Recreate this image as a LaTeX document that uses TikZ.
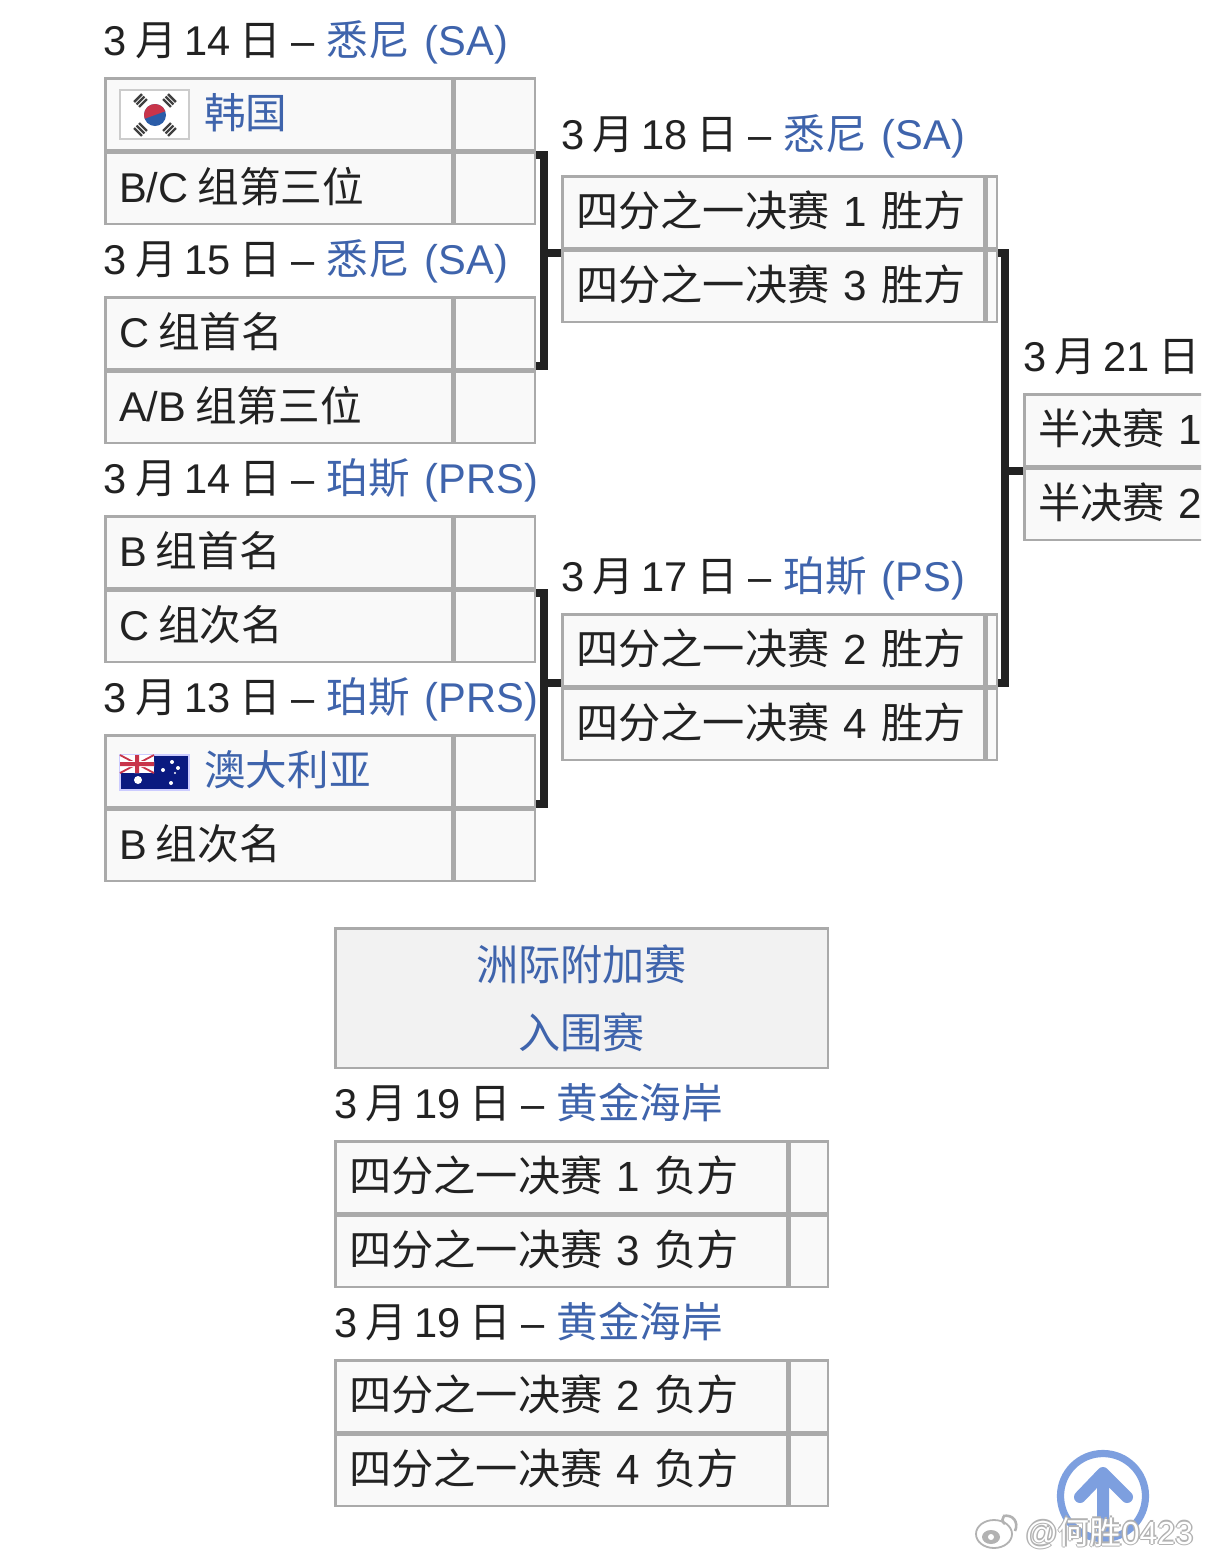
\documentclass[tikz,border=0pt]{standalone}
\usepackage{fontspec}
\setmainfont{Liberation Sans}
\newfontfamily\cjk{Noto Sans CJK SC}
\usetikzlibrary{positioning, calc}
\definecolor{cellline}{HTML}{AAAAAA}
\definecolor{cellfill}{HTML}{F9F9F9}
\definecolor{headfill}{HTML}{F2F2F2}
\definecolor{wikilink}{HTML}{3F64AC}
\definecolor{inkdark}{HTML}{222222}
\definecolor{upblue}{HTML}{7D9FDF}
\definecolor{flagred}{HTML}{C8344A}
\definecolor{flagblue}{HTML}{2A5CA8}
\definecolor{ausblue}{HTML}{0A1A80}
\newcommand{\wl}[1]{\hspace{1.5pt}– \hspace{2pt}\textcolor{wikilink}{#1}}
\newcommand{\tightfont}{\fontsize{20.8}{25}\selectfont\spaceskip=4pt\relax}

\begin{document}
\begin{tikzpicture}[x=0.5pt, y=-0.5pt, node distance=0pt,
    every node/.style={text=inkdark, font=\fontsize{21.1}{25}\selectfont},
    cell/.style={rectangle, draw=cellline, fill=cellfill, line width=1.25pt, minimum height=35.75pt, inner ysep=0pt, text height=14pt, text depth=0pt},
    team/.style={cell, inner xsep=7pt, align=left, text width=#1},
    group/.style={team=159.25pt, font=\tightfont},
    score/.style={cell, inner xsep=0pt, minimum width=#1},
    date/.style={inner sep=0pt, outer sep=0pt, minimum height=35.5pt, text height=14pt, text depth=0pt, font=\tightfont},
    bracket/.style={draw=inkdark, line width=4pt}]

    \path[use as bounding box, fill=white] (0,0) rectangle (1206,1560);
    \clip (0,0) rectangle (1201,1560);

    % first round
    \node [group, anchor=north west] (kor) at (104,77) {\hspace*{42.5pt}\textcolor{wikilink}{\cjk 韩国}};
    \node [score=40.25pt, right=of kor] (kors) {};
    \node [date, above=of kor.north west, anchor=south west] (d1) {3 {\cjk 月} 14 {\cjk 日} \wl{{\cjk 悉尼}\hspace{3.5pt} (SA)}};
    \node [group, below=of kor] (bc) {B/C\hspace{4.5pt}{\cjk 组第三位}};
    \node [score=40.25pt, right=of bc] (bcs) {};
    \node [date, below=of bc.south west, anchor=north west] (d2) {3 {\cjk 月} 15 {\cjk 日} \wl{{\cjk 悉尼}\hspace{3.5pt} (SA)}};
    \node [group, below=of d2.south west, anchor=north west] (cone) {C\hspace{4.5pt}{\cjk 组首名}};
    \node [score=40.25pt, right=of cone] (cones) {};
    \node [group, below=of cone] (ab) {A/B\hspace{4.5pt}{\cjk 组第三位}};
    \node [score=40.25pt, right=of ab] (abs) {};
    \node [date, below=of ab.south west, anchor=north west] (d3) {3 {\cjk 月} 14 {\cjk 日} \wl{{\cjk 珀斯}\hspace{3.5pt} (PRS)}};
    \node [group, below=of d3.south west, anchor=north west] (bone) {B\hspace{4.5pt}{\cjk 组首名}};
    \node [score=40.25pt, right=of bone] (bones) {};
    \node [group, below=of bone] (ctwo) {C\hspace{4.5pt}{\cjk 组次名}};
    \node [score=40.25pt, right=of ctwo] (ctwos) {};
    \node [date, below=of ctwo.south west, anchor=north west] (d4) {3 {\cjk 月} 13 {\cjk 日} \wl{{\cjk 珀斯}\hspace{3.5pt} (PRS)}};
    \node [group, below=of d4.south west, anchor=north west] (aus) {\hspace*{42.5pt}\textcolor{wikilink}{\cjk 澳大利亚}};
    \node [score=40.25pt, right=of aus] (auss) {};
    \node [group, below=of aus] (btwo) {B\hspace{4.5pt}{\cjk 组次名}};
    \node [score=40.25pt, right=of btwo] (btwos) {};

    % second round
    \node [team=196.75pt, anchor=north west] (qa) at (561,175) {{\cjk 四分之一决赛} 1 {\cjk 胜方}};
    \node [score=5.25pt, right=of qa] (qas) {};
    \node [date, above=2pt of qa.north west, anchor=south west] (d5) {3 {\cjk 月} 18 {\cjk 日} \wl{{\cjk 悉尼}\hspace{3.5pt} (SA)}};
    \node [team=196.75pt, below=of qa] (qc) {{\cjk 四分之一决赛} 3 {\cjk 胜方}};
    \node [score=5.25pt, right=of qc] (qcs) {};
    \node [team=196.75pt, anchor=north west] (qb) at (561,613) {{\cjk 四分之一决赛} 2 {\cjk 胜方}};
    \node [score=5.25pt, right=of qb] (qbs) {};
    \node [date, above=of qb.north west, anchor=south west] (d6) {3 {\cjk 月} 17 {\cjk 日} \wl{{\cjk 珀斯}\hspace{3.5pt} (PS)}};
    \node [team=196.75pt, below=of qb] (qd) {{\cjk 四分之一决赛} 4 {\cjk 胜方}};
    \node [score=5.25pt, right=of qd] (qds) {};

    % semi final, runs off the page
    \node [team=109.75pt, anchor=north west] (sa) at (1023,393) {{\cjk 半决赛} 1};
    \node [date, above=of sa.north west, anchor=south west] (d7) {3 {\cjk 月} 21 {\cjk 日}};
    \node [team=109.75pt, below=of sa] (sb) {{\cjk 半决赛} 2};

    % brackets
    \draw [bracket] ([yshift=-2pt]bcs.north east) -- ++(8,0) coordinate (b1) |- ([yshift=2pt]cones.south east);
    \draw [bracket] ([yshift=-2pt]qa.south west) -- ([yshift=-2pt]qa.south west -| b1);
    \draw [bracket] ([yshift=-2pt]ctwos.north east) -- ++(8,0) coordinate (b2) |- ([yshift=2pt]auss.south east);
    \draw [bracket] ([yshift=2pt]qb.south west) -- ([yshift=2pt]qb.south west -| b2);
    \draw [bracket] ([yshift=-2pt]qas.south east) -- ++(7,0) coordinate (b3) |- ([yshift=2pt]qbs.south east);
    \draw [bracket] ([yshift=-2pt]sa.south west) -- ([yshift=-2pt]sa.south west -| b3);

    % play-off table
    \node [rectangle, draw=cellline, fill=headfill, line width=1.25pt, inner sep=0pt, minimum height=69.75pt, text width=246.25pt, align=center, anchor=north west, font=\fontsize{21.1}{34}\selectfont\cjk] (head) at (334,927) {\textcolor{wikilink}{洲际附加赛}\\\textcolor{wikilink}{入围赛}};
    \node [date, below=of head.south west, anchor=north west] (d8) {3 {\cjk 月} 19 {\cjk 日} \wl{\cjk 黄金海岸}};
    \node [team=211.75pt, below=of d8.south west, anchor=north west] (la) {{\cjk 四分之一决赛} 1 {\cjk 负方}};
    \node [score=19.25pt, right=of la] (las) {};
    \node [team=211.75pt, below=of la] (lc) {{\cjk 四分之一决赛} 3 {\cjk 负方}};
    \node [score=19.25pt, right=of lc] (lcs) {};
    \node [date, below=of lc.south west, anchor=north west] (d9) {3 {\cjk 月} 19 {\cjk 日} \wl{\cjk 黄金海岸}};
    \node [team=211.75pt, below=of d9.south west, anchor=north west] (lb) {{\cjk 四分之一决赛} 2 {\cjk 负方}};
    \node [score=19.25pt, right=of lb] (lbs) {};
    \node [team=211.75pt, below=of lb] (ld) {{\cjk 四分之一决赛} 4 {\cjk 负方}};
    \node [score=19.25pt, right=of ld] (lds) {};

    % korean flag
    \begin{scope}[shift={(kor.west)}]
        \draw [draw=black!20, fill=white, line width=1pt] (16,-24) rectangle (85,25);
        \foreach \ang in {45,135,225,315}
            \foreach \off in {17,20.5,24}
                \draw [black!75, line width=1.2pt, shift={(51,1)}, rotate=\ang] (\off,-5.5) -- (\off,5.5);
        \fill [flagblue] (51,1) circle (11);
        \fill [flagred, shift={(51,1)}, rotate=20] (-11,0) arc (180:360:11) -- cycle;
    \end{scope}

    % australian flag
    \begin{scope}[shift={(aus.west)}]
        \draw [draw=blue!20, fill=ausblue, line width=1pt] (16,-16) rectangle (85,19);
        \fill [white] (16,-16) rectangle (50,2);
        \draw [flagred, line width=0.9pt] (16,-16) -- (50,2) (50,-16) -- (16,2);
        \fill [white] (16,-10) rectangle (50,-4) (30,-16) rectangle (36,2);
        \fill [flagred] (16,-9) rectangle (50,-5) (31,-16) rectangle (35,2);
        \foreach \sx/\sy/\sr in {68/-9/2, 59/-1/2, 74/-3/2, 71/2/1.2, 67/12/2, 34/9/4}
            \fill [white] (\sx,\sy) circle (\sr);
    \end{scope}

    % up arrow button
    \draw [upblue, line width=3.6pt] (1103,1496) circle (42.5);
    \draw [upblue, line width=6pt, line cap=round, line join=round] (1080,1497) -- (1103,1473) -- (1127,1497) (1103,1473) -- (1103,1540);

    % watermark
    \draw [white, fill=white, line width=1pt] (994,1534) ellipse (18 and 14);
    \draw [black!30, line width=0.9pt] (994,1534) ellipse (18 and 14);
    \fill [black!30] (991,1537) ellipse (9 and 7);
    \fill [white] (991,1537) ellipse (3 and 3);
    \draw [black!30, line width=1.3pt] (1005,1524) arc (-60:40:-5) (1003,1516) .. controls (1013,1514) and (1019,1522) .. (1015,1531);
    \foreach \dx/\dy in {-1.5/0, 1.5/0, 0/-1.5, 0/1.5}
        \node [anchor=west, inner sep=0pt, text=black!30, font=\fontsize{16}{20}\selectfont] at (1025+\dx,1533+\dy) {@{\cjk 何胜}0423};
    \node [anchor=west, inner sep=0pt, text=white, font=\fontsize{16}{20}\selectfont] (mark) at (1025,1533) {@{\cjk 何胜}0423};
\end{tikzpicture}
\end{document}
